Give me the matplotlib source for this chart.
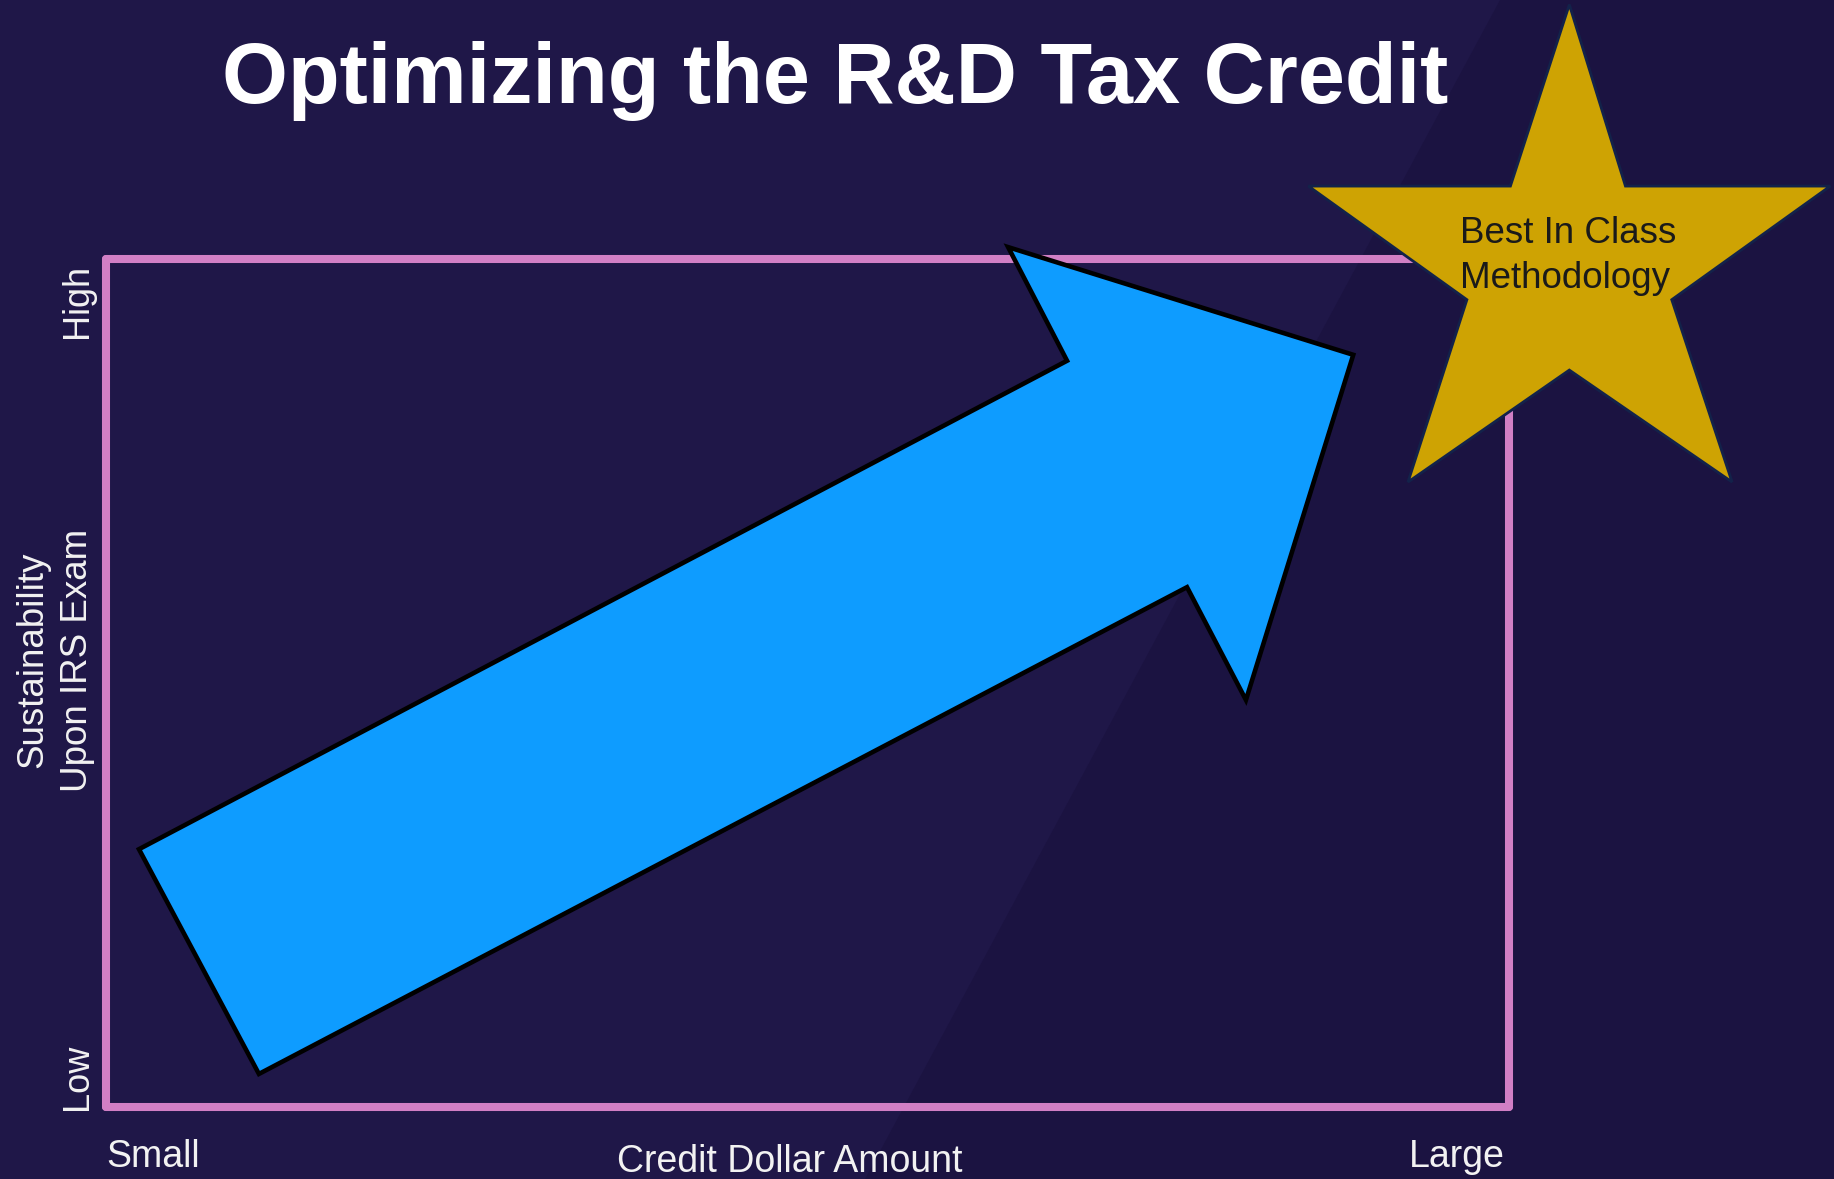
import matplotlib
matplotlib.use("Agg")
import matplotlib.pyplot as plt
from matplotlib.patches import Polygon

plt.rcParams['font.family'] = ['Liberation Sans', 'DejaVu Sans']

W, H = 1834, 1179

title = "Optimizing the R&D Tax Credit"
x_label = "Credit Dollar Amount"
y_label = ["Sustainability", "Upon IRS Exam"]
x_ends = ["Small", "Large"]
y_ends = ["Low", "High"]
star_label = ["Best In Class", "Methodology"]

# arrow outline, in box units (0..1 = Small..Large, Low..High)
arrow_x = [0.109, 0.0235, 0.685, 0.643, 0.889, 0.8125, 0.7705]
arrow_y = [0.039, 0.304, 0.880, 1.014, 0.887, 0.480, 0.613]

# star outline, same units (it sits past the top right corner)
star_x = [1.043, 1.083, 1.229, 1.116, 1.159, 1.043, 0.928, 0.970, 0.857, 1.001]
star_y = [1.300, 1.086, 1.086, 0.952, 0.737, 0.869, 0.737, 0.952, 1.086, 1.086]

bg = '#1f1748'
bg_dark = '#1b1341'
pink = '#d17fc5'
blue = '#0e9cff'
gold = '#cea303'
white = '#f2f2f2'


def px(x, y):
    # pixel position (top-left origin) -> figure fraction
    return x / W, 1 - y / H


fig = plt.figure(figsize=(W / 100, H / 100), dpi=100, facecolor=bg)

# slide background, with the darker part on the right
back = fig.add_axes([0, 0, 1, 1])
back.set_xlim(0, W)
back.set_ylim(H, 0)
back.axis('off')
back.set_zorder(0)
back.add_patch(Polygon([(1500, 0), (W, 0), (W, H), (865, H)], closed=True,
                       facecolor=bg_dark, edgecolor='none'))

# the box: x 106..1509, y 259..1107 px
bl, bb = px(106, 1107)
br, bt = px(1509, 259)
ax = fig.add_axes([bl, bb, br - bl, bt - bb])
ax.set_zorder(1)
ax.set_facecolor('none')
ax.set_xlim(0, 1)
ax.set_ylim(0, 1)
ax.set_xticks([])
ax.set_yticks([])
for s in ax.spines.values():
    s.set_color(pink)
    s.set_linewidth(5.8)
    s.set_capstyle('round')

ax.add_patch(Polygon(list(zip(arrow_x, arrow_y)), closed=True, facecolor=blue,
                     edgecolor='black', linewidth=3.3, joinstyle='miter',
                     zorder=3, clip_on=False))

ax.add_patch(Polygon(list(zip(star_x, star_y)), closed=True, facecolor=gold,
                     edgecolor='#13224a', linewidth=2, joinstyle='miter',
                     zorder=4, clip_on=False))

fig.text(*px(1460, 243), star_label[0], fontsize=26.5, color='#1a1a1a',
         ha='left', va='baseline', zorder=6)
fig.text(*px(1460, 288), star_label[1], fontsize=26.5, color='#1a1a1a',
         ha='left', va='baseline', zorder=6)

fig.text(*px(835, 103), title, fontsize=61, fontweight='bold', color='white',
         ha='center', va='baseline')

fig.text(*px(106, 1167), x_ends[0], fontsize=27, color=white,
         ha='left', va='baseline')
fig.text(*px(1505, 1167), x_ends[1], fontsize=27, color=white,
         ha='right', va='baseline')
fig.text(*px(790, 1172), x_label, fontsize=27, color=white,
         ha='center', va='baseline')

fig.text(*px(87, 1077), y_ends[0], fontsize=26, color=white, rotation=90,
         rotation_mode='anchor', ha='center', va='baseline')
fig.text(*px(87, 301), y_ends[1], fontsize=26, color=white, rotation=90,
         rotation_mode='anchor', ha='center', va='baseline')
fig.text(*px(42, 660), y_label[0], fontsize=26.5, color=white, rotation=90,
         rotation_mode='anchor', ha='center', va='baseline')
fig.text(*px(87, 660), y_label[1], fontsize=26.5, color=white, rotation=90,
         rotation_mode='anchor', ha='center', va='baseline')

fig.savefig('out.png', dpi=100, facecolor=bg)
